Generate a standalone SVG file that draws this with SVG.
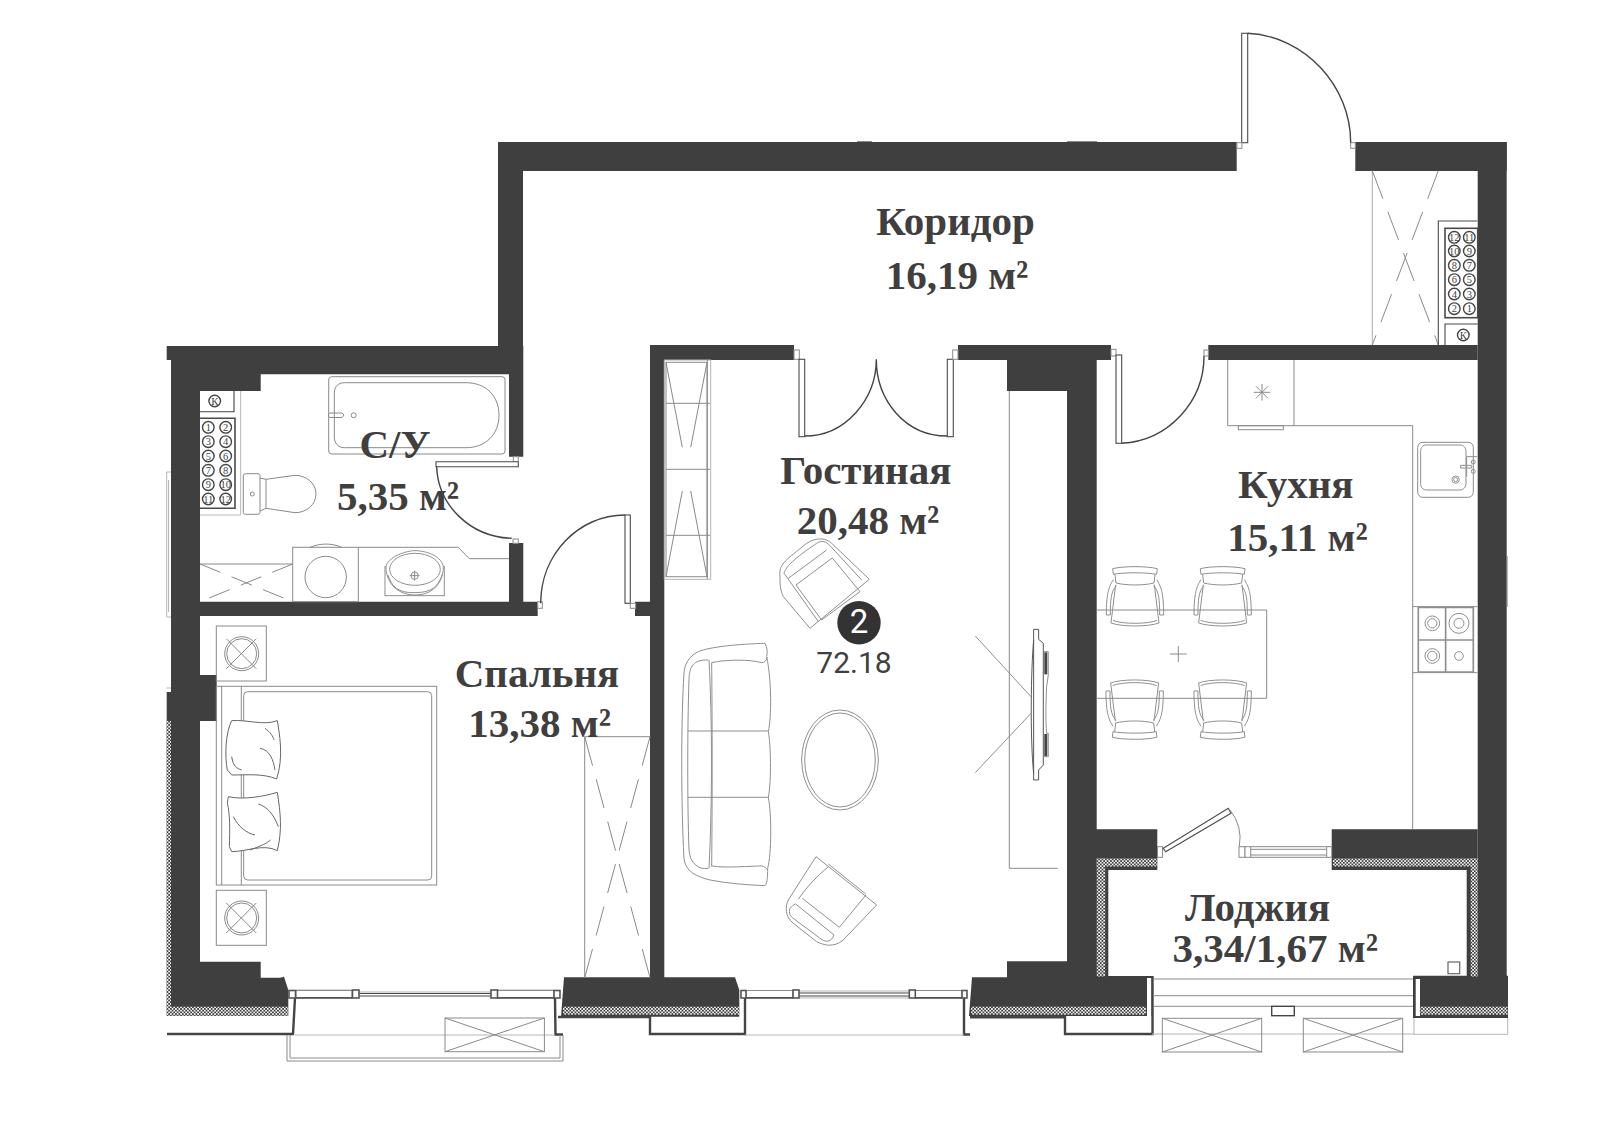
<svg xmlns="http://www.w3.org/2000/svg" width="1600" height="1144" viewBox="0 0 1600 1144">
<style>
.w{fill:#3f3f3f}
.f{fill:none;stroke:#8a8a8a;stroke-width:1}
.g{fill:none;stroke:#b5b5b5;stroke-width:1}
.s{fill:#fff;stroke:#8a8a8a;stroke-width:1}
.d{fill:none;stroke:#444;stroke-width:1.4}
.b{fill:#fff;stroke:#4a4a4a;stroke-width:1.1}
.h{fill:none;stroke:#444;stroke-width:2.4}
.p{fill:#fff;stroke:#555;stroke-width:1.6}
.z{fill:none;stroke:#8f8f8f;stroke-width:3}
.dash{fill:none;stroke:#8a8a8a;stroke-width:1;stroke-dasharray:30 14}
.t{font-family:"Liberation Serif",serif;font-weight:700;font-size:41px;fill:#3f3f3f;text-anchor:middle}
.n{font-family:"Liberation Serif",serif;font-size:10.5px;fill:#444;text-anchor:middle}
.c{fill:#fff;stroke:#444;stroke-width:1.4}
</style>
<defs>
<pattern id="ht" width="3.4" height="3.4" patternUnits="userSpaceOnUse">
<rect width="3.4" height="3.4" fill="#3f3f3f"/>
<rect x="0" y="0" width="1.7" height="1.7" fill="#f2f2f2"/>
<rect x="1.7" y="1.7" width="1.7" height="1.7" fill="#f2f2f2"/>
</pattern>
<g id="chair">
<path class="z" d="M-67 -83C-35 -91 35 -91 67 -83L65 -66C35 -72 -35 -72 -65 -66Z"/>
<path class="z" d="M-60 -66L-57 -40C-25 -32 25 -32 57 -40L60 -66"/>
<path class="z" d="M-65 -50C-78 -30 -86 -10 -86 56H-74C-74 10 -72 -15 -56 -32"/>
<path class="z" d="M65 -50C78 -30 86 -10 86 56H74C74 10 72 -15 56 -32"/>
<path class="z" d="M-58 -35L-72 80C-40 92 40 92 72 80L58 -35"/>
<path class="z" d="M-66 72C-40 84 40 84 66 72"/>
</g>
<g id="tablelamp">
<rect class="f" x="0" y="0" width="50" height="55"/>
<circle class="f" cx="25.4" cy="27.7" r="17"/>
<circle class="f" cx="25.4" cy="27.7" r="15"/>
<path class="f" d="M10 12.7L40 42.7M40 12.7L10 42.7"/>
</g>
<g id="crossbox">
<rect class="f" x="0" y="0" width="99.4" height="33.7"/>
<path class="f" d="M0 0L99.4 33.7M99.4 0L0 33.7"/>
</g>
</defs>
<rect width="1600" height="1144" fill="#fff"/>

<g id="facade-thin-lines">
<path class="g" d="M166.7 472H171M166.7 472V617H171M168.5 480V612M166.7 688H171"/>
<path class="g" d="M1507.5 556V607"/>
<path class="f" d="M857 141.5H872M1067 141.5H1097"/>
</g>

<g id="walls">
<path class="w" d="M498 142H1236.7V171H523V346H498Z"/>
<path class="w" d="M1355.3 142H1506.7V171H1355.3Z"/>
<rect class="w" x="1477.7" y="142" width="29" height="836"/>
<path class="w" d="M166.7 346H523.3V456.7H509V374.3H260.7V391H200V601.7H537.7V616H200V675H216.7V721H200V961.7H260.7V977.7H280L284 976.7L288.3 990V1015.7H166.7V692H171V360H166.7Z"/>
<rect class="w" x="509" y="543" width="14.3" height="60"/>
<path class="w" d="M635 601.7H650V345H794V360H664.3V977.3H735L739.3 990V1016.7H561L564 977.3H650V616H635Z"/>
<path class="w" d="M958 345H1111V360H1096.7V829.3H1157.3V870H1108.3V976H1153V1016H969L972 977.3H1007V961.3H1067V391H1007V360H958Z"/>
<path class="w" d="M1208.3 345H1477.7V360H1208.3Z"/>
<path class="w" d="M1331.7 829.3H1477.7V976H1413V1018H1508V976H1466.7V870H1331.7Z"/>
<path class="w" d="M1413 975.7H1508V1018H1413Z"/>
<rect x="1147" y="978" width="4.5" height="38" fill="#fff"/>
<rect x="1415.7" y="979" width="4.3" height="37" fill="#fff"/>
</g>

<g id="insulation">
<rect x="166.7" y="721" width="4.3" height="286" fill="url(#ht)"/>
<rect x="166.7" y="1006.7" width="121.3" height="9" fill="url(#ht)"/>
<rect x="563" y="1006.7" width="176" height="8" fill="url(#ht)"/>
<rect x="971" y="1006.7" width="175" height="8" fill="url(#ht)"/>
<rect x="1420.5" y="1006.7" width="87" height="8" fill="url(#ht)"/>
<rect x="1096.7" y="858.5" width="60" height="8" fill="url(#ht)"/>
<rect x="1096.7" y="858.5" width="8.5" height="118" fill="url(#ht)"/>
<rect x="1333" y="858.5" width="144.7" height="8" fill="url(#ht)"/>
<rect x="1470.7" y="858.5" width="7" height="118" fill="url(#ht)"/>
</g>

<g id="balcony-lines">
<path class="h" d="M167 1034H293L295 998"/>
<path class="h" d="M555 998L555.5 1034.5H563"/>
<path class="h" d="M558 1017H650V1034H745V998"/>
<path class="h" d="M964 998V1034.5H970"/>
<path class="h" d="M970 1017.3H1065V1034H1152.5V976"/>
<path class="g" d="M295 1035H555M745 1035H964M1152 1034H1414M1414 1018V1034.3H1507.7V1018"/>
<path class="f" d="M287 1035V1061H563V1035M290 1035V1058H560V1035"/>
<use href="#crossbox" x="445" y="1018"/>
<use href="#crossbox" x="1162.3" y="1018.3"/>
<use href="#crossbox" x="1303.3" y="1018.3"/>
<path class="f" d="M1153 979H1413M1153 995.7H1413M1153 1006.3H1271.7M1294.3 1006.3H1413"/>
<rect class="d" x="1271.7" y="1006.3" width="22.6" height="9.4"/>
<rect x="1448" y="962" width="11.7" height="11.7" fill="#fff" stroke="#666" stroke-width="1.2"/>
</g>

<g id="windows">
<path class="g" d="M296 990H352M359 992H491M497 990H554"/>
<rect class="s" x="296" y="990.5" width="56" height="7"/>
<rect class="s" x="497" y="990.5" width="57" height="7"/>
<path class="h" style="stroke-width:1.6" d="M296 998H352M497 998H554"/>
<path class="d" style="stroke-width:1.1" d="M359 993.5H491M359 996H491"/>
<rect class="p" x="289" y="990.5" width="6.5" height="7.5"/>
<rect class="p" x="352.5" y="990" width="6.5" height="8"/>
<rect class="p" x="491" y="990" width="6.5" height="8"/>
<rect class="p" x="554" y="990.5" width="6" height="7.5"/>
<rect class="s" x="746" y="990.5" width="47" height="7"/>
<rect class="s" x="915" y="990.5" width="47" height="7"/>
<path class="h" style="stroke-width:1.6" d="M746 998H793M915 998H962"/>
<path class="g" d="M799 991H909M799 998H909"/>
<path class="d" style="stroke-width:1.1" d="M799 993H909M799 996H909"/>
<rect class="p" x="741" y="990.5" width="5" height="7.5"/>
<rect class="p" x="793" y="990" width="6" height="8"/>
<rect class="p" x="909.3" y="990" width="6" height="8"/>
<rect class="p" x="962" y="990.5" width="5" height="7.5"/>
</g>

<g id="loggia-door">
<rect class="s" x="1157.5" y="846.7" width="5" height="10.6"/>
<path class="b" d="M1163.3 848.3L1228.3 808.3L1231 813.3L1165.7 851.7Z"/>
<path class="f" d="M1230 810A46 46 0 0 1 1239.3 846.7"/>
<path class="f" d="M1250.7 846.7H1326.7M1250.7 849.3H1326.7M1250.7 855H1326.7M1250.7 857.3H1326.7"/>
<rect class="s" x="1239" y="846.7" width="6" height="10.6"/>
<rect class="s" x="1245" y="846.7" width="5.7" height="10.6"/>
<rect class="s" x="1326.7" y="846.7" width="5" height="10.6"/>
</g>

<g id="entrance-door">
<rect class="b" x="1241.7" y="33.3" width="6" height="109.4"/>
<rect class="s" x="1236.9" y="142.7" width="5" height="5.6"/>
<rect class="s" x="1350.7" y="142.7" width="4.6" height="5.6"/>
<path class="d" d="M1247.7 33.3C1305 36 1350.7 86 1350.7 142.7"/>
</g>

<g id="corridor-closet">
<path class="f" style="stroke:#aaa" d="M1372.3 170.7V345"/>
<path class="dash" d="M1372.3 170.7L1438.3 345M1438.3 170.7L1372.3 345"/>
<path class="b" d="M1477.7 221H1438.3V345"/>
<rect class="b" x="1445" y="228.3" width="32.7" height="89.4" style="stroke-width:1.6"/>
<path class="b" d="M1477.7 324H1445V345"/>
<g>
<circle class="c" cx="1454.3" cy="237.3" r="5.8"/><text class="n" x="1454.3" y="241">12</text>
<circle class="c" cx="1469.3" cy="237.3" r="5.8"/><text class="n" x="1469.3" y="241">11</text>
<circle class="c" cx="1454.3" cy="251" r="5.8"/><text class="n" x="1454.3" y="254.7">10</text>
<circle class="c" cx="1469.3" cy="251" r="5.8"/><text class="n" x="1469.3" y="254.7">9</text>
<circle class="c" cx="1454.3" cy="265.3" r="5.8"/><text class="n" x="1454.3" y="269">8</text>
<circle class="c" cx="1469.3" cy="265.3" r="5.8"/><text class="n" x="1469.3" y="269">7</text>
<circle class="c" cx="1454.3" cy="279.7" r="5.8"/><text class="n" x="1454.3" y="283.4">6</text>
<circle class="c" cx="1469.3" cy="279.7" r="5.8"/><text class="n" x="1469.3" y="283.4">5</text>
<circle class="c" cx="1454.3" cy="294" r="5.8"/><text class="n" x="1454.3" y="297.7">4</text>
<circle class="c" cx="1469.3" cy="294" r="5.8"/><text class="n" x="1469.3" y="297.7">3</text>
<circle class="c" cx="1454.3" cy="308.7" r="5.8"/><text class="n" x="1454.3" y="312.4">2</text>
<circle class="c" cx="1469.3" cy="308.7" r="5.8"/><text class="n" x="1469.3" y="312.4">1</text>
<circle class="c" cx="1463.3" cy="335" r="5.8"/><text class="n" x="1463.3" y="338.7">К</text>
</g>
</g>

<g id="bathroom">
<path class="g" d="M200 515H240.7V391"/>
<path class="d" style="stroke-width:1.1" d="M200 411.7H234V391"/>
<path class="b" d="M200 418.3H235V508.3H200" style="stroke-width:1.6"/>
<circle class="c" cx="214.7" cy="401" r="5.8"/><text class="n" x="214.7" y="404.7">К</text>
<circle class="c" cx="208.3" cy="427.3" r="5.8"/><text class="n" x="208.3" y="431">1</text>
<circle class="c" cx="225.7" cy="427.3" r="5.8"/><text class="n" x="225.7" y="431">2</text>
<circle class="c" cx="208.3" cy="441.7" r="5.8"/><text class="n" x="208.3" y="445.4">3</text>
<circle class="c" cx="225.7" cy="441.7" r="5.8"/><text class="n" x="225.7" y="445.4">4</text>
<circle class="c" cx="208.3" cy="456" r="5.8"/><text class="n" x="208.3" y="459.7">5</text>
<circle class="c" cx="225.7" cy="456" r="5.8"/><text class="n" x="225.7" y="459.7">6</text>
<circle class="c" cx="208.3" cy="470.3" r="5.8"/><text class="n" x="208.3" y="474">7</text>
<circle class="c" cx="225.7" cy="470.3" r="5.8"/><text class="n" x="225.7" y="474">8</text>
<circle class="c" cx="208.3" cy="484.7" r="5.8"/><text class="n" x="208.3" y="488.4">9</text>
<circle class="c" cx="225.7" cy="484.7" r="5.8"/><text class="n" x="225.7" y="488.4">10</text>
<circle class="c" cx="208.3" cy="499" r="5.8"/><text class="n" x="208.3" y="502.7">11</text>
<circle class="c" cx="225.7" cy="499" r="5.8"/><text class="n" x="225.7" y="502.7">12</text>
<rect class="f" x="328.7" y="376.7" width="176.3" height="77.3" rx="3"/>
<path class="f" d="M344.3 382.7H466C486 382.7 499 396 499 415.2C499 434 486 447.7 466 447.7H344.3C338 447.7 334.3 443 334.3 437V393C334.3 387 338 382.7 344.3 382.7Z"/>
<path class="f" d="M330 413H342L344 415L342 417.5H330C328 417.5 328 413 330 413Z"/>
<circle class="f" cx="353.7" cy="415.3" r="2.5"/>
<rect class="s" x="243.3" y="473.7" width="16.7" height="40.6" rx="2"/>
<circle class="f" cx="252.3" cy="494" r="2"/>
<path class="f" d="M260 478L266 479.3L295 475.3C306 475.3 316 483 316 494C316 505 306 512.7 295 512.7L266 508.3L260 511"/>
<path class="f" d="M266 479.3V508.3"/>
<path class="f" d="M200 564H292.7"/>
<path class="f" style="stroke-dasharray:22 12" d="M200 564L292.7 601.7M292.7 564L200 601.7"/>
<rect class="f" x="292.7" y="547.3" width="65.6" height="54.4"/>
<path class="f" d="M310 547.3C320 543 332 543 341.7 547.3"/>
<circle class="f" cx="325.7" cy="577" r="20.7"/>
<path class="f" d="M358.3 547.3H458.3L469.3 558.7H509"/>
<g transform="translate(150 330) scale(.3333)">
<rect class="z" x="705" y="710" width="178" height="87"/>
<path class="z" style="fill:#fff" d="M708 712C712 680 770 662 795 662C830 662 878 680 880 712C880 745 860 795 795 795C735 795 708 750 708 712Z"/>
<ellipse class="z" cx="795" cy="718" rx="76" ry="48"/>
<path class="z" d="M714 735C725 770 745 790 795 788C845 788 865 770 876 735"/>
<circle class="z" cx="794" cy="737" r="11"/>
<path class="z" d="M794 722V752M779 737H809"/>
</g>
</g>

<g id="sanuzel-door">
<rect class="s" x="513.3" y="456.7" width="5" height="5"/>
<path class="b" d="M518.3 461.7V466.7H436V461.7H518.3"/>
<path class="d" d="M436.7 466.7C438 505 470 537 511.7 538.3"/>
<rect class="s" x="513" y="539" width="5.3" height="4.3"/>
</g>

<g id="bedroom-door">
<rect class="s" x="537.7" y="601.7" width="4.6" height="6.6"/>
<rect class="b" x="625" y="515" width="5.3" height="88.3"/>
<rect class="s" x="630.3" y="603.3" width="5.4" height="5"/>
<path class="d" d="M625 515C578 515 540.7 555 540.7 603.3"/>
</g>

<g id="bedroom">
<use href="#tablelamp" x="216.3" y="626"/>
<use href="#tablelamp" x="216.3" y="890.3"/>
<rect class="f" x="216.3" y="686.3" width="220.4" height="198.7"/>
<path class="f" d="M221.7 686.3V885M241.3 686.3V885"/>
<rect class="f" x="243.7" y="691.7" width="188" height="188.3" rx="4"/>
<g transform="translate(150 600) scale(.3333)">
<path class="z" style="fill:#fff;stroke:#666" d="M245 362C290 358 340 378 382 362C388 400 402 470 380 537C340 520 290 525 245 525L232 510C224 470 226 400 245 362Z"/>
<path class="z" style="stroke:#666" d="M330 445C360 450 370 480 375 510M345 385C360 395 370 410 372 420M245 470C250 500 260 505 275 510"/>
<path class="z" style="fill:#fff;stroke:#666" d="M235 590C280 600 340 590 382 577C392 640 397 690 382 752C340 730 290 755 245 755L238 740C240 690 240 640 232 610Z"/>
<path class="z" style="stroke:#666" d="M325 612C350 620 370 640 385 680M250 650C265 680 290 700 315 705M300 750C340 735 350 730 362 720"/>
</g>
<path class="f" d="M584.7 977.7V736.7H650"/>
<path class="dash" d="M584.7 736.7L650 977.7M650 736.7L584.7 977.7"/>
</g>

<g id="living-doors">
<rect class="s" x="794" y="350" width="5.3" height="9.3"/>
<rect class="b" x="799" y="359.3" width="5.7" height="77.4"/>
<rect class="b" x="947.3" y="359.3" width="6" height="77.4"/>
<rect class="s" x="952.7" y="350" width="5.3" height="9.3"/>
<path class="d" d="M804.7 436C845 436 876.3 400 876.3 359.3C876.3 400 905 436 947.3 436"/>
</g>

<g id="living">
<rect class="g" x="664.3" y="360" width="46.4" height="219.3"/>
<path class="f" d="M707.3 360V579.3"/>
<rect class="f" x="666" y="362.3" width="41" height="214.4"/>
<path class="f" d="M666 403.3H710M666 469.3H710M666 535.3H710"/>
<path class="f" d="M666 362.3L682.3 447.3M707 362.3L690.7 447.3M682.3 491L666 576.7M690.7 491L707 576.7"/>
<g transform="translate(630 330) scale(.3333)">
<path class="z" d="M450 740C445 700 470 690 530 640C560 620 590 625 605 640L718 748L540 895L460 800C450 780 450 760 450 740Z"/>
<path class="z" d="M462 730C470 700 525 665 560 640C575 630 590 635 598 645L695 750M475 745L590 660M498 765L607 684L690 785L575 870ZM462 730L478 752L565 875"/>
</g>
<g transform="translate(630 620) scale(.3333)">
<path class="z" d="M405 70C330 72 240 80 205 95C175 110 163 135 162 160C153 300 153 550 162 715C165 755 200 770 240 780C290 790 350 795 405 797C412 790 413 770 413 745C425 700 425 580 415 533C425 480 422 370 415 335C425 290 425 180 410 110C413 100 412 80 405 70Z"/>
<path class="z" d="M235 120C190 118 178 140 177 180C172 330 172 550 177 690C180 730 205 750 235 745"/>
<path class="z" d="M237 120C247 300 247 550 237 745M245 128C247 300 247 550 245 740"/>
<path class="z" d="M245 128C290 118 360 118 395 128C402 128 410 122 412 112M245 738C290 745 360 738 395 738C402 738 410 745 413 750"/>
<path class="z" d="M173 333H415M173 532H415"/>
<ellipse class="z" cx="630" cy="420" rx="115" ry="150"/>
<ellipse class="z" cx="630" cy="420" rx="106" ry="141"/>
<path class="z" d="M558 710L740 855L640 960C610 985 580 975 560 965L490 910C465 890 465 860 475 840Z"/>
<path class="z" d="M595 732L707 822M595 740C560 770 530 800 505 838M517 835L628 922L708 825"/>
<path class="z" d="M497 852L612 945M480 865C475 880 482 890 490 895L570 955C590 970 605 965 612 945M497 852C490 855 484 860 480 865"/>
<path class="z" d="M1036 48L1203 230M1036 458L1203 280"/>
<path class="z" style="stroke:#555" d="M1211 28H1226V58L1240 70V435L1226 450V480H1211Z"/>
<path class="z" style="stroke:#555" d="M1211 60C1203 150 1200 350 1211 460"/>
<path class="z" d="M1240 95H1255V165L1250 200C1247 270 1247 300 1250 340L1255 340V410H1240"/>
<rect x="1243" y="97" width="9" height="66" fill="#444"/>
<rect x="1243" y="342" width="9" height="66" fill="#444"/>
</g>
<path class="f" d="M1009.3 391V868.3H1057.7"/>
<circle cx="859" cy="622.7" r="21.7" fill="#333"/>
<text x="859" y="633" text-anchor="middle" style="font-family:Roboto,sans-serif;font-size:33px;font-weight:400;fill:#fff">2</text>
<text x="854" y="672.7" text-anchor="middle" style="font-family:Roboto,sans-serif;font-size:30px;font-weight:400;fill:#3f3f3f">72.18</text>
</g>

<g id="kitchen-door">
<rect class="s" x="1111" y="349.3" width="5" height="6.7"/>
<rect class="b" x="1116" y="355" width="5.7" height="88.3"/>
<rect class="s" x="1204" y="350" width="4.3" height="6"/>
<path class="d" d="M1121.7 443.3C1168 441 1204 402 1204 356"/>
</g>

<g id="kitchen">
<path class="f" d="M1227.7 360V425.7H1294V360M1294 425.7H1412.7V829"/>
<rect class="f" x="1238.3" y="425.7" width="45" height="4"/>
<path class="f" d="M1262 384V400.6M1253.7 392.3H1270.3M1256 386.3L1268 398.3M1268 386.3L1256 398.3"/>
<rect class="f" x="1417.7" y="442.3" width="55.6" height="55" rx="5"/>
<g transform="translate(1070 330) scale(.3333)">
<path class="z" d="M1070 345H1170C1180 345 1188 352 1188 365V460C1188 472 1180 480 1170 480H1070C1058 480 1052 472 1052 460V365C1052 352 1058 345 1070 345Z"/>
<circle class="z" cx="1157" cy="449" r="11"/><circle class="z" cx="1157" cy="449" r="6"/>
<path class="z" d="M1172 406H1205V414H1172ZM1190 380V440M1222 380H1190"/>
<circle class="z" cx="1210" cy="396" r="6"/><circle class="z" cx="1210" cy="424" r="6"/>
<path class="z" d="M1028 830H1222M1028 1028H1222"/>
<path class="z" style="stroke-width:5" d="M1045 832H1210V1026H1045ZM1127 832V1026M1045 930H1210"/>
<circle class="z" cx="1087" cy="880" r="22"/><circle class="z" cx="1087" cy="880" r="14"/>
<circle class="z" cx="1167" cy="880" r="30"/><circle class="z" cx="1167" cy="880" r="15"/>
<circle class="z" cx="1087" cy="978" r="22"/><circle class="z" cx="1087" cy="978" r="14"/>
<circle class="z" cx="1167" cy="978" r="13"/>
<use href="#chair" transform="translate(195 799)"/>
<use href="#chair" transform="translate(458 799)"/>
<use href="#chair" transform="translate(194 1139) scale(1 -1)"/>
<use href="#chair" transform="translate(458 1139) scale(1 -1)"/>
</g>
<path class="f" d="M1096.7 610H1266.7V698.3H1096.7"/>
<path class="f" d="M1178.3 646V662M1170 654H1186.6"/>
</g>

<g id="labels">
<text class="t" x="955.5" y="235">Коридор</text>
<text class="t" x="957" y="289">16,19 м²</text>
<text class="t" x="395" y="458.3">С/У</text>
<text class="t" x="398" y="510">5,35 м²</text>
<text class="t" x="537" y="686.7">Спальня</text>
<text class="t" x="539.7" y="736.7">13,38 м²</text>
<text class="t" x="865.8" y="484">Гостиная</text>
<text class="t" x="868" y="534">20,48 м²</text>
<text class="t" x="1295.7" y="497.7">Кухня</text>
<text class="t" x="1297.5" y="551">15,11 м²</text>
<text class="t" x="1257.5" y="921">Лоджия</text>
<text class="t" x="1275.3" y="962.3">3,34/1,67 м²</text>
</g>
</svg>
